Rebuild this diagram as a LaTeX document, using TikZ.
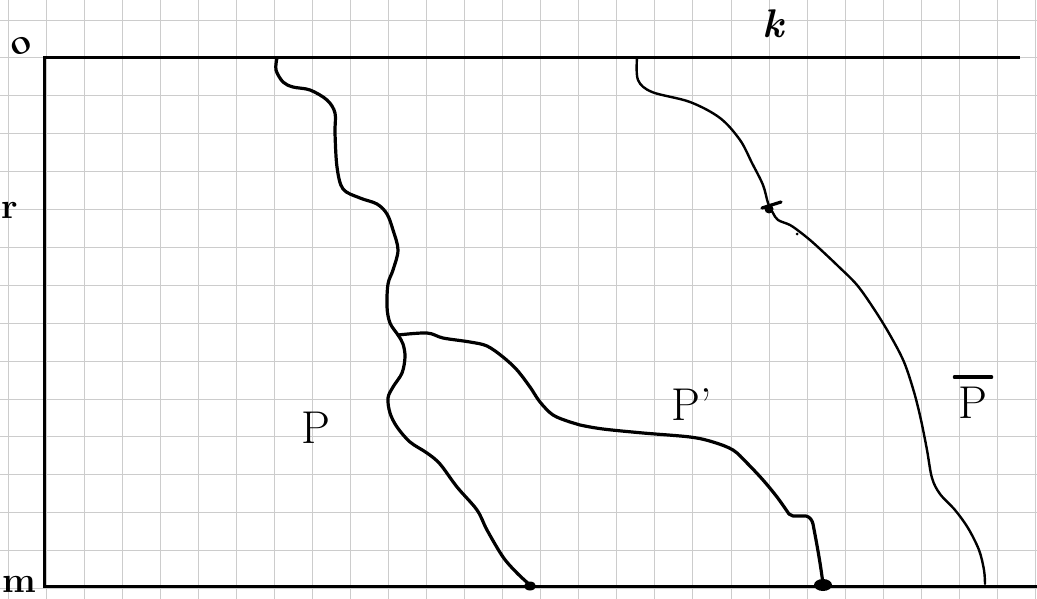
\documentclass[tikz,border=0pt]{standalone}
\usepackage{fontspec}
\usetikzlibrary{calc}
\begin{document}
\begin{tikzpicture}[x=1pt,y=-1pt,
  gridline/.style={draw=black!20,line width=0.9pt},
  frame/.style={draw=black,line width=3pt},
  pathline/.style={draw=black,line width=3.2pt,line cap=round,line join=round},
  thinpath/.style={draw=black,line width=2.4pt,line cap=round,line join=round},
  lab/.style={inner sep=0pt,font=\fontsize{46}{52}\selectfont},
  axlab/.style={inner sep=0pt,font=\fontsize{36}{40}\selectfont\bfseries}]
\useasboundingbox (0,0) rectangle (1037,599);
\fill[white] (0,0) rectangle (1037,599);
% grid paper
\foreach \i in {0,...,27} { \draw[gridline] ({8+38.05*\i},0) -- ({8+38.05*\i},599); }
\foreach \j in {0,...,15} { \draw[gridline] (0,{20+37.9*\j}) -- (1037,{20+37.9*\j}); }
% frame
\coordinate (o) at (44,58);
\coordinate (tr) at (1020,58);
\coordinate (bl) at (44,586);
\coordinate (br) at (1037,586);
\draw[frame] (tr) -- (o) -- (bl) -- (br);
% axis labels
\node[axlab,rotate=25] (lo) at (21,46) {o};
\node[axlab] (lr) at (10,210) {r};
\node[axlab] (lm) at (19,584) {m};
\node[inner sep=0pt,font=\fontsize{40}{46}\selectfont\bfseries\itshape] (lk) at (773,24) {k};
% path P
\draw[pathline] plot[smooth,tension=0.55] coordinates {
 (277,58) (276,70) (283,82) (293,87) (310,90) (327,100) (335,113) (335,133)
 (337,167) (343,189) (360,198) (377,204) (387,214) (393,230) (398,250)
 (393,270) (388,284) (387,307) (390,323) (398,335) (403,344) (405,357)
 (402,373) (393,387) (388,398) (390,413) (397,427) (410,442) (427,453)
 (440,464) (457,487) (477,510) (487,530) (503,557) (517,573) (530,585)};
% path P'
\draw[pathline] plot[smooth,tension=0.55] coordinates {
 (398,335) (427,333) (443,338) (470,342) (487,346) (503,357) (517,370)
 (530,387) (540,402) (553,415) (570,422) (580,425) (603,429) (643,433)
 (690,437) (713,442) (733,450) (747,463) (763,480) (777,497) (789,514)};
\draw[pathline] (789,514) -- (793,516) -- (806,516) .. controls (810,517) and (812,520) .. (813,524)
  .. controls (816,540) and (820,560) .. (823,584);
% path P bar
\draw[thinpath] plot[smooth,tension=0.55] coordinates {
 (637,58) (638,80) (652,92) (690,102) (720,118) (740,140) (752,163)
 (763,185) (768,203) (773,213) (778,220) (790,225) (800,232) (810,240)
 (820,249) (838,266) (857,285) (874,309) (890,335) (904,362) (914,392)
 (921,420) (927,450) (932,478) (940,494) (955,510) (968,528) (979,550)
 (984,570) (985,584)};
% cross mark
\draw[pathline] (762,208) -- (781,202);
\fill (769,209) circle (4.5);
\fill (797,234) circle (1.5);
% end dots
\fill (530,586) ellipse (6 and 4.5);
\fill (823,585) ellipse (9 and 6);
% labels
\node[lab] (lP) at (316,428) {P};
\node[lab] (lPp) at (692,405) {P’};
\node[lab] (lPb) at (973,403) {P};
\draw[pathline] ($(lPb.north west)+(-4,-10)$) -- ($(lPb.north east)+(4,-10)$);
\end{tikzpicture}
\end{document}
